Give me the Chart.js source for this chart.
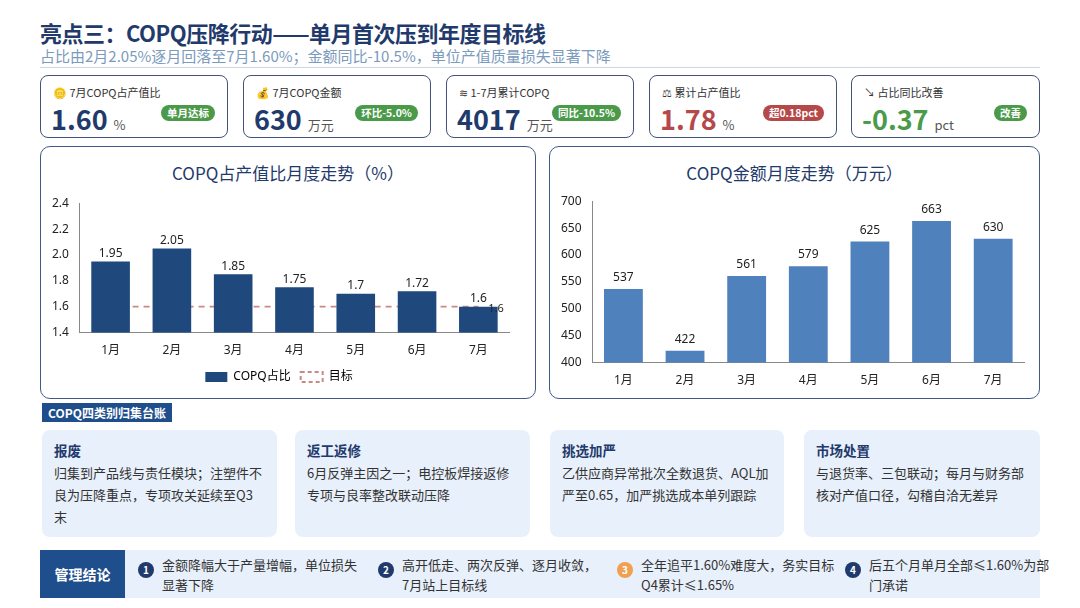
<!DOCTYPE html>
<html><head><meta charset="utf-8">
<script src="https://cdn.jsdelivr.net/npm/chart.js@4/dist/chart.umd.min.js"></script>
<style>
body{margin:0;width:1080px;height:608px;background:#fff;font-family:"Noto Sans CJK SC","Noto Sans",sans-serif;position:relative;overflow:hidden;color:#1f2d4d}
.a{position:absolute}
.title{left:40px;top:16px;font-size:22px;font-weight:bold;color:#1f3a6b;letter-spacing:-0.5px}
.sub{left:40px;top:46px;font-size:15px;color:#7b9bbd;width:1000px;border-bottom:1.5px solid #c9d6e6;padding-bottom:1px;line-height:20px}
.kpi{top:75px;width:188px;height:63px;border:1.5px solid #3f5478;border-radius:8px;box-sizing:border-box}
.kpi .l{position:absolute;left:12px;top:8px;font-size:11px;color:#333}
.kpi .v{position:absolute;left:10px;top:26px;font-size:27px;font-weight:bold;color:#1f3a6b;line-height:34px}
.kpi .v span{font-size:13px;font-weight:normal;color:#555;margin-left:6px}
.kpi .b{position:absolute;right:12px;top:29px;font-size:10.5px;color:#fff;background:#4a9a4a;border-radius:8px;padding:0 6px;line-height:16px;font-weight:bold}
.panel{top:146px;height:253px;border:1.5px solid #3f5a8a;border-radius:10px;box-sizing:border-box}
.ptitle{position:absolute;top:13px;width:100%;text-align:center;font-size:17px;color:#1f3a6b}
.sec{left:42px;top:403px;background:#1f4e8c;color:#fff;font-size:12px;font-weight:bold;padding:0 6px;line-height:19px}
.card{top:430px;height:107px;width:235px;background:#e8f0fb;border-radius:8px;box-sizing:border-box;padding:10px 12px}
.card h4{margin:0 0 2px;font-size:13.5px;color:#1f3a6b}
.card p{margin:0;font-size:13px;color:#333;line-height:22px}
.strip{left:40px;top:550px;width:1000px;height:48px;background:#e8f0fb}
.mg{left:40px;top:550px;width:85px;height:48px;background:#1f4e8c;color:#fff;font-size:14px;font-weight:bold;text-align:center;line-height:48px}
.c{top:555px;font-size:13px;color:#333;line-height:20px;padding-left:24px}
.c i{position:absolute;left:0;top:7px;width:16px;height:16px;border-radius:50%;background:#1f3a6b;color:#fff;font-style:normal;font-size:10px;text-align:center;line-height:16px;font-weight:bold}
</style></head><body>
<div class="a title">亮点三：COPQ压降行动——单月首次压到年度目标线</div>
<div class="a sub">占比由2月2.05%逐月回落至7月1.60%；金额同比-10.5%，单位产值质量损失显著下降</div>

<div class="a kpi" style="left:40px"><div class="l">🪙 7月COPQ占产值比</div><div class="v">1.60<span>%</span></div><div class="b">单月达标</div></div>
<div class="a kpi" style="left:243px"><div class="l">💰 7月COPQ金额</div><div class="v">630<span>万元</span></div><div class="b">环比-5.0%</div></div>
<div class="a kpi" style="left:446px"><div class="l">≋ 1-7月累计COPQ</div><div class="v">4017<span>万元</span></div><div class="b">同比-10.5%</div></div>
<div class="a kpi" style="left:649px"><div class="l">⚖ 累计占产值比</div><div class="v" style="color:#b54848">1.78<span>%</span></div><div class="b" style="background:#b54848">超0.18pct</div></div>
<div class="a kpi" style="left:851px;width:189px"><div class="l">↘ 占比同比改善</div><div class="v" style="color:#4a9a4a">-0.37<span>pct</span></div><div class="b">改善</div></div>

<div class="a panel" style="left:40px;width:496px"><div class="ptitle">COPQ占产值比月度走势（%）</div>
<canvas id="c1" class="a" style="left:8px;top:46px;width:480px;height:200px" width="480" height="200"></canvas></div>
<div class="a panel" style="left:549px;width:491px"><div class="ptitle">COPQ金额月度走势（万元）</div>
<canvas id="c2" class="a" style="left:8px;top:44px;width:476px;height:200px" width="476" height="200"></canvas></div>

<div class="a sec">COPQ四类别归集台账</div>
<div class="a card" style="left:42px"><h4>报废</h4><p>归集到产品线与责任模块；注塑件不良为压降重点，专项攻关延续至Q3末</p></div>
<div class="a card" style="left:295px"><h4>返工返修</h4><p>6月反弹主因之一；电控板焊接返修专项与良率整改联动压降</p></div>
<div class="a card" style="left:550px;width:234px"><h4>挑选加严</h4><p>乙供应商异常批次全数退货、AQL加严至0.65，加严挑选成本单列跟踪</p></div>
<div class="a card" style="left:804px;width:236px"><h4>市场处置</h4><p>与退货率、三包联动；每月与财务部核对产值口径，勾稽自洽无差异</p></div>

<div class="a strip"></div>
<div class="a mg">管理结论</div>
<div class="a c" style="left:138px;width:200px"><i>1</i>金额降幅大于产量增幅，单位损失显著下降</div>
<div class="a c" style="left:378px;width:200px"><i>2</i>高开低走、两次反弹、逐月收敛，7月站上目标线</div>
<div class="a c" style="left:617px;width:210px"><i style="background:#f0a050">3</i>全年追平1.60%难度大，务实目标Q4累计≤1.65%</div>
<div class="a c" style="left:845px;width:190px"><i>4</i>后五个月单月全部≤1.60%为部门承诺</div>

<script>
const months=['1月','2月','3月','4月','5月','6月','7月'];
const ratio=[1.95,2.05,1.85,1.75,1.7,1.72,1.6];
const target=[1.6,1.6,1.6,1.6,1.6,1.6,1.6];
const amount=[537,422,561,579,625,663,630];
const F='"Noto Sans","Noto Sans CJK SC",sans-serif';
Chart.defaults.font.family=F;Chart.defaults.color='#222';
const lbl={id:'lbl',afterDatasetsDraw(ch){const x=ch.ctx;x.save();x.font='12px '+F;x.fillStyle='#222';x.textAlign='center';
 const m=ch.getDatasetMeta(0);m.data.forEach((b,i)=>x.fillText(ch.data.datasets[0].data[i],b.x,b.y-8));
 if(ch.data.datasets[1]){const m1=ch.getDatasetMeta(1);const p=m1.data[6];x.font='11px '+F;x.textAlign='left';x.textBaseline='middle';x.fillText('1.6',p.x+10,p.y+2);}
 x.restore();}};
new Chart(document.getElementById('c1'),{data:{labels:months,datasets:[
 {type:'bar',label:'COPQ占比',data:ratio,backgroundColor:'#1f497d',categoryPercentage:0.63,barPercentage:1},
 {type:'line',label:'目标',data:target,borderColor:'#c98a86',borderDash:[6,5],borderWidth:1.8,pointRadius:0,fill:false}]},
 options:{responsive:false,animation:false,layout:{padding:{right:20,top:5}},
 plugins:{legend:{position:'bottom',labels:{boxWidth:22,boxHeight:10,font:{size:12},generateLabels(ch){return[{text:'COPQ占比',fillStyle:'#1f497d',strokeStyle:'#1f497d',lineWidth:0},{text:'目标',fillStyle:'rgba(0,0,0,0)',strokeStyle:'#c98a86',lineWidth:2,lineDash:[4,3]}]}}},tooltip:{enabled:false}},
 scales:{y:{min:1.4,max:2.4,ticks:{stepSize:0.2,font:{size:12}},grid:{display:false},border:{color:'#888'}},
 x:{grid:{display:false},border:{color:'#888'},ticks:{font:{size:12}}}}},plugins:[lbl]});
new Chart(document.getElementById('c2'),{type:'bar',data:{labels:months,datasets:[{data:amount,backgroundColor:'#4f81bd',categoryPercentage:0.63,barPercentage:1}]},
 options:{responsive:false,animation:false,layout:{padding:{right:10,top:5}},plugins:{legend:{display:false},tooltip:{enabled:false}},
 scales:{y:{min:400,max:700,ticks:{stepSize:50,font:{size:12}},grid:{display:false},border:{color:'#888'}},
 x:{grid:{display:false},border:{color:'#888'},ticks:{font:{size:12}}}}},plugins:[lbl]});
</script>
</body></html>
